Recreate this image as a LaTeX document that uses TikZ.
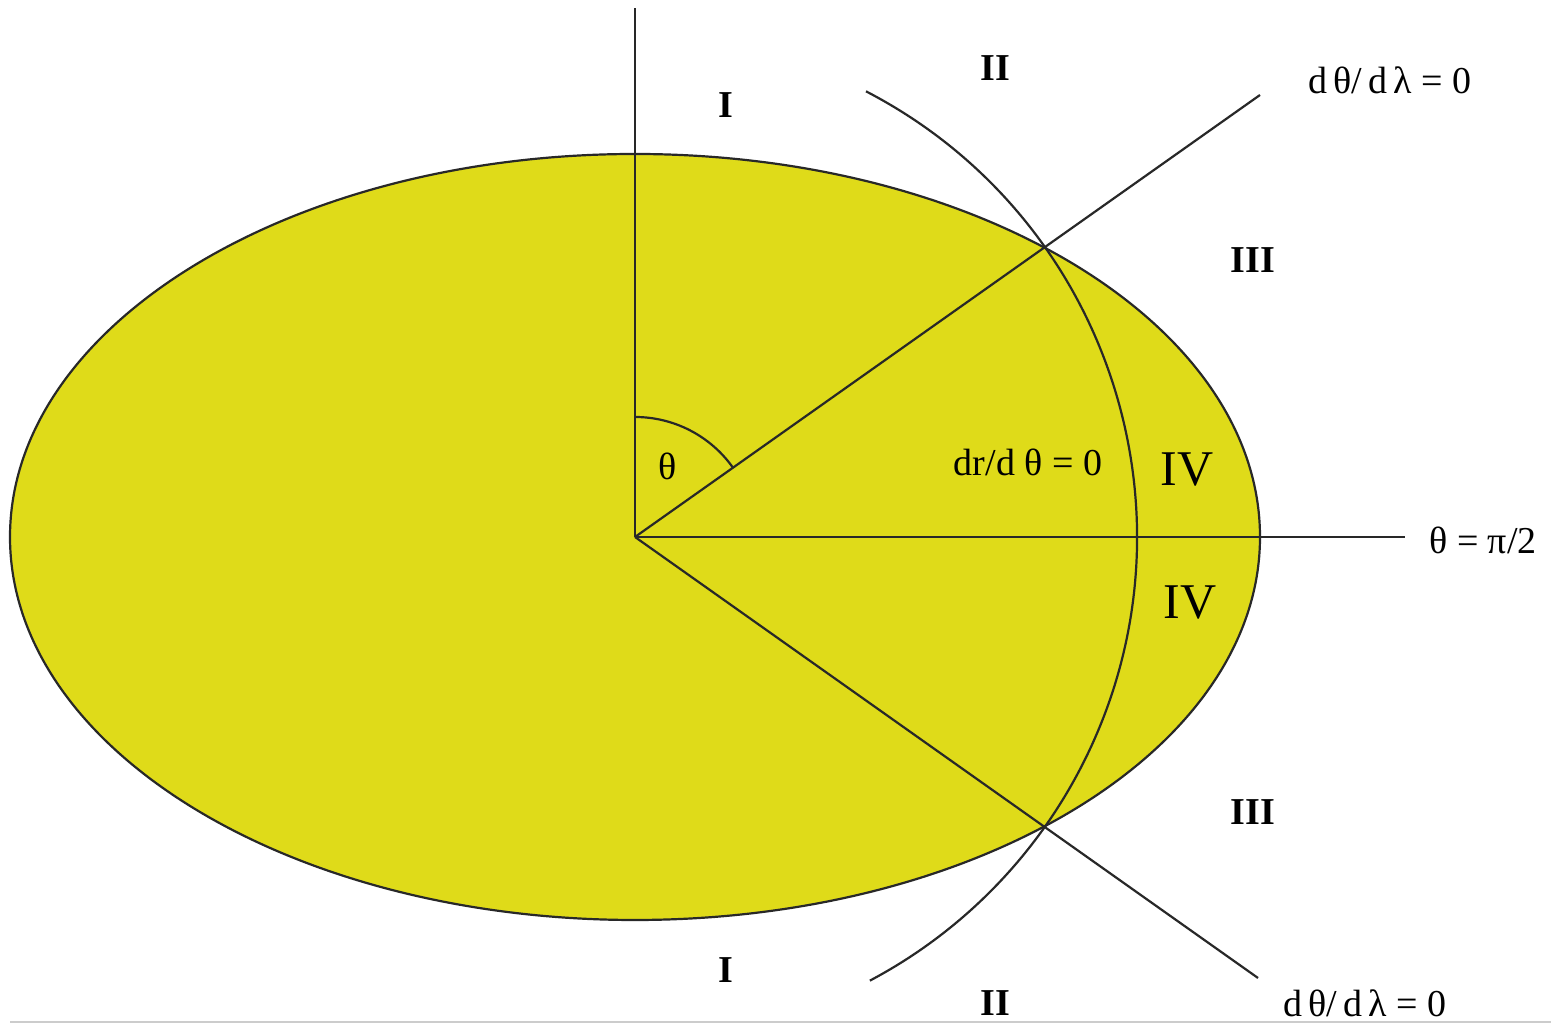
\documentclass[tikz,border=0pt]{standalone}
\usepackage{fontspec}
\setmainfont{Liberation Serif}
\definecolor{ellyellow}{RGB}{223,219,25}
\definecolor{linegray}{RGB}{40,40,40}
\begin{document}
\begin{tikzpicture}[x=1pt,y=1pt,
  ln/.style={draw=linegray,line width=2.2pt},
  num/.style={inner sep=0pt,font=\fontsize{38}{40}\selectfont\bfseries},
  big/.style={inner sep=0pt,font=\fontsize{50}{52}\selectfont},
  eq/.style={inner sep=0pt,font=\fontsize{38}{40}\selectfont}]
\useasboundingbox (0,0) rectangle (1551,1024);
\fill[white] (0,0) rectangle (1551,1024);
\draw[gray!40,line width=2pt] (10,2) -- (1551,2);
\coordinate (O) at (635,487);
\coordinate (vtop) at (635,1016);
\coordinate (hend) at (1405,487);
\coordinate (uend) at (1260,929);
\coordinate (lend) at (1258,46);
\path[ln,fill=ellyellow] (O) ellipse[x radius=625pt,y radius=383pt];
\draw[ln] (O) -- (vtop);
\draw[ln] (O) -- (hend);
\draw[ln] (O) -- (uend);
\draw[ln] (O) -- (lend);
\draw[ln] (O) ++(62.6:502pt) arc[start angle=62.6,end angle=-62.1,radius=502pt];
\draw[ln] (O) ++(90:120pt) arc[start angle=90,end angle=35.3,radius=120pt];
\node[num] (i1) at (726,919) {I};
\node[num] (i2) at (726,54) {I};
\node[num] (ii1) at (995,956) {II};
\node[num] (ii2) at (995,21) {II};
\node[num] (iii1) at (1253,764) {III};
\node[num] (iii2) at (1253,212) {III};
\node[big] (iv1) at (1187,554) {IV};
\node[big] (iv2) at (1190,421) {IV};
\node[eq] (th) at (668,558) {θ};
\node[eq] (drdt) at (1028,562) {dr/d θ = 0};
\node[eq] (pi2) at (1483,484) {θ = π/2};
\node[eq] (dl1) at (1390,944) {d\,θ/\,d\,λ = 0};
\node[eq] (dl2) at (1365,21) {d\,θ/\,d\,λ = 0};
\end{tikzpicture}
\end{document}
